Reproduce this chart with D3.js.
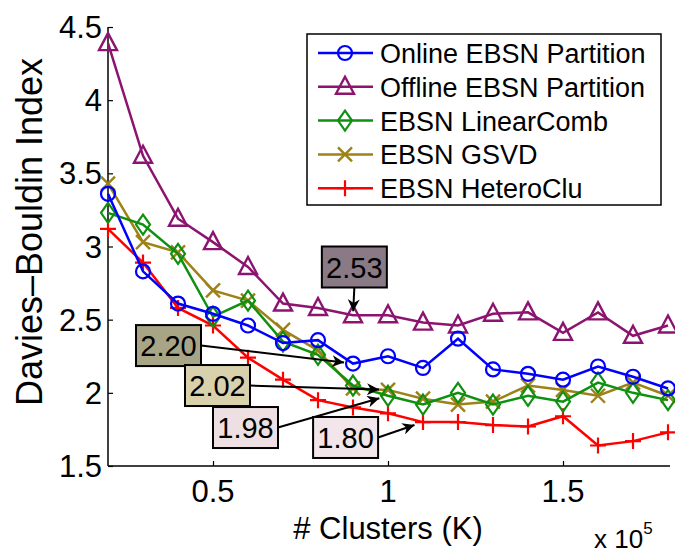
<!DOCTYPE html>
<html>
<head>
<meta charset="utf-8">
<script src="https://cdn.jsdelivr.net/npm/d3@7"></script>
<style>
  body { margin: 0; background: #fff; }
  text { font-family: "Liberation Sans", Arial, sans-serif; fill: #000; }
</style>
</head>
<body>
<script>
var width = 675,
    height = 554
var margin = {top: 27, right: 7, bottom: 88, left: 108}

// x in units of 10^5 clusters
var xs = [0.2, 0.3, 0.4, 0.5, 0.6, 0.7, 0.8, 0.9, 1.0, 1.1, 1.2, 1.3, 1.4, 1.5, 1.6, 1.7, 1.8]
var online  = [3.36, 2.83, 2.61, 2.54, 2.46, 2.34, 2.36, 2.20, 2.25, 2.17, 2.37, 2.16, 2.13, 2.09, 2.18, 2.11, 2.03]
var offline = [4.39, 3.62, 3.19, 3.03, 2.86, 2.61, 2.58, 2.53, 2.53, 2.48, 2.46, 2.54, 2.55, 2.41, 2.55, 2.39, 2.46]
var linear  = [3.23, 3.15, 2.95, 2.52, 2.63, 2.35, 2.26, 2.05, 1.98, 1.92, 2.00, 1.92, 1.98, 1.94, 2.07, 2.00, 1.95]
var gsvd    = [3.43, 3.03, 2.96, 2.70, 2.63, 2.43, 2.29, 2.03, 2.02, 1.96, 1.92, 1.94, 2.05, 2.02, 1.98, 2.07, 1.98]
var hetero  = [3.12, 2.89, 2.58, 2.46, 2.24, 2.09, 1.95, 1.90, 1.86, 1.80, 1.80, 1.78, 1.77, 1.84, 1.64, 1.67, 1.73]

var names = ['Online EBSN Partition', 'Offline EBSN Partition', 'EBSN LinearComb', 'EBSN GSVD', 'EBSN HeteroClu']
var colors = ['#0000ff', '#8c1470', '#109010', '#9c8218', '#ff0000']
var markers = ['circle', 'triangle', 'diamond', 'cross', 'plus']
var seriesValues = [online, offline, linear, gsvd, hetero]

var xTicks = [0.5, 1, 1.5]
var yTicks = [1.5, 2, 2.5, 3, 3.5, 4, 4.5]

// callouts: label, the point it marks, and the box's top-left corner (data units)
var noteLabels = ['2.53', '2.20', '2.02', '1.98', '1.80']
var noteTargetX = [0.9, 0.9, 1.0, 1.0, 1.1]
var noteTargetY = [2.53, 2.20, 2.02, 1.98, 1.80]
var noteBoxX = [0.811, 0.28, 0.42, 0.50, 0.786]
var noteBoxY = [3.0, 2.463, 2.19, 1.903, 1.835]
var noteFill = ['#8a7a86', '#a8a486', '#d9d0ac', '#eee0e2', '#f2e6ea']

var svg = d3.select('body').append('svg')
    .attr('width', width)
    .attr('height', height)

var chartWidth = width - margin.left - margin.right,
    chartHeight = height - margin.top - margin.bottom

var x = d3.scaleLinear().domain([0.2, 1.8]).range([0, chartWidth])
var y = d3.scaleLinear().domain([1.5, 4.5]).range([chartHeight, 0])

var chart = svg.append('g')
    .attr('transform', `translate(${margin.left},${margin.top})`)

// axes, ticks pointing inward like matlab
var xAxis = chart.append('g')
    .attr('transform', `translate(0,${chartHeight})`)
    .call(d3.axisTop(x).tickValues(xTicks).tickSize(5).tickFormat(''))
xAxis.select('.domain').attr('d', `M0,0H${chartWidth + 2}`).attr('stroke-width', 1.5)
xAxis.selectAll('.tick line').attr('stroke-width', 1.2)

var yAxis = chart.append('g')
    .call(d3.axisRight(y).tickValues(yTicks).tickSize(5).tickFormat(''))
yAxis.select('.domain').attr('d', `M0,${chartHeight}V0`).attr('stroke-width', 1.5)
yAxis.selectAll('.tick line').attr('stroke-width', 1.2)

chart.selectAll('.xlab')
    .data(xTicks).enter()
    .append('text')
    .attr('x', d => x(d))
    .attr('y', chartHeight + 36)
    .attr('text-anchor', 'middle')
    .style('font-size', '31px')
    .text(d => d)

chart.selectAll('.ylab')
    .data(yTicks).enter()
    .append('text')
    .attr('x', -6)
    .attr('y', d => y(d) + 11)
    .attr('text-anchor', 'end')
    .style('font-size', '31px')
    .text(d => d)

svg.append('text')
    .attr('x', margin.left + x(1))
    .attr('y', 539)
    .attr('text-anchor', 'middle')
    .style('font-size', '31px')
    .text('# Clusters (K)')

var expo = svg.append('text')
    .attr('x', 594)
    .attr('y', 548)
    .style('font-size', '26px')
expo.append('tspan').text('x 10')
expo.append('tspan').attr('dy', -14).style('font-size', '17px').text('5')

svg.append('text')
    .attr('transform', 'translate(42,232) rotate(-90)')
    .attr('text-anchor', 'middle')
    .style('font-size', '36px')
    .text('Davies\u2013Bouldin Index')

function drawMarker(g, type, color) {
    if (type == 'circle') {
        g.append('circle').attr('r', 7)
            .attr('fill', 'none').attr('stroke', color).attr('stroke-width', 2.2)
    } else if (type == 'triangle') {
        g.append('path').attr('d', 'M0,-10L9,7L-9,7Z')
            .attr('fill', 'none').attr('stroke', color).attr('stroke-width', 2.4)
    } else if (type == 'diamond') {
        g.append('path').attr('d', 'M0,-10L7,0L0,10L-7,0Z')
            .attr('fill', 'none').attr('stroke', color).attr('stroke-width', 2.2)
    } else if (type == 'cross') {
        g.append('path').attr('d', 'M-7,-7L7,7M-7,7L7,-7')
            .attr('stroke', color).attr('stroke-width', 2.4)
    } else {
        g.append('path').attr('d', 'M-8,0H8M0,-8V8')
            .attr('stroke', color).attr('stroke-width', 2.2)
    }
}

var line = d3.line()
    .x((d, i) => x(xs[i]))
    .y(d => y(d))

// draw in reverse so the first series ends up on top like the reference
var order = [4, 3, 2, 1, 0]
order.forEach(k => {
    var g = chart.append('g')
    g.append('path')
        .datum(seriesValues[k])
        .attr('d', line)
        .attr('fill', 'none')
        .attr('stroke', colors[k])
        .attr('stroke-width', 2.5)
    g.selectAll('.mk')
        .data(seriesValues[k]).enter()
        .append('g')
        .attr('transform', (d, i) => `translate(${x(xs[i])},${y(d)})`)
        .each(function() { drawMarker(d3.select(this), markers[k], colors[k]) })
})

// callouts
svg.append('defs').append('marker')
    .attr('id', 'arrow')
    .attr('viewBox', '0 0 10 10')
    .attr('refX', 10).attr('refY', 5)
    .attr('markerWidth', 16).attr('markerHeight', 12)
    .attr('markerUnits', 'userSpaceOnUse')
    .attr('orient', 'auto')
    .append('path')
    .attr('d', 'M0,0L10,5L0,10L3,5Z')
    .attr('fill', '#000')

var boxW = 65, boxH = 41
noteLabels.forEach((lab, i) => {
    var bx = x(noteBoxX[i]), by = y(noteBoxY[i])
    var tx = x(noteTargetX[i]), ty = y(noteTargetY[i])
    var sx, sy
    if (i == 0) { sx = bx + boxW / 2; sy = by + boxH } else { sx = bx + boxW; sy = by + boxH / 2 }
    var arrow = chart.append('line')
        .attr('x1', sx).attr('y1', sy)
        .attr('stroke', '#000').attr('stroke-width', 2)
        .attr('marker-end', 'url(#arrow)')
    // stop the arrow just short of the marker
    var dx = tx - sx, dy = ty - sy, len = Math.sqrt(dx * dx + dy * dy)
    var gap = i == 0 ? 4 : 9
    arrow.attr('x2', tx - dx / len * gap).attr('y2', ty - dy / len * gap)
    chart.append('rect')
        .attr('x', bx).attr('y', by)
        .attr('width', boxW).attr('height', boxH)
        .attr('fill', noteFill[i])
        .attr('stroke', '#000').attr('stroke-width', 2)
    chart.append('text')
        .attr('x', bx + boxW / 2).attr('y', by + 31)
        .attr('text-anchor', 'middle')
        .style('font-size', '29px')
        .text(lab)
})

// legend
var legend = svg.append('g').attr('transform', 'translate(307,34)')
legend.append('rect')
    .attr('width', 354).attr('height', 171)
    .attr('fill', '#fff').attr('stroke', '#000').attr('stroke-width', 1.5)
var item = legend.selectAll('.item')
    .data(names).enter()
    .append('g')
    .attr('transform', (d, i) => `translate(0,${19 + i * 33.8})`)
item.append('line')
    .attr('x1', 11).attr('x2', 66)
    .attr('stroke', (d, i) => colors[i])
    .attr('stroke-width', 2.5)
item.append('g')
    .attr('transform', 'translate(38,0)')
    .each(function(d, i) { drawMarker(d3.select(this), markers[i], colors[i]) })
item.append('text')
    .attr('x', 73).attr('y', 10)
    .style('font-size', '27px')
    .text(d => d)
</script>
</body>
</html>
